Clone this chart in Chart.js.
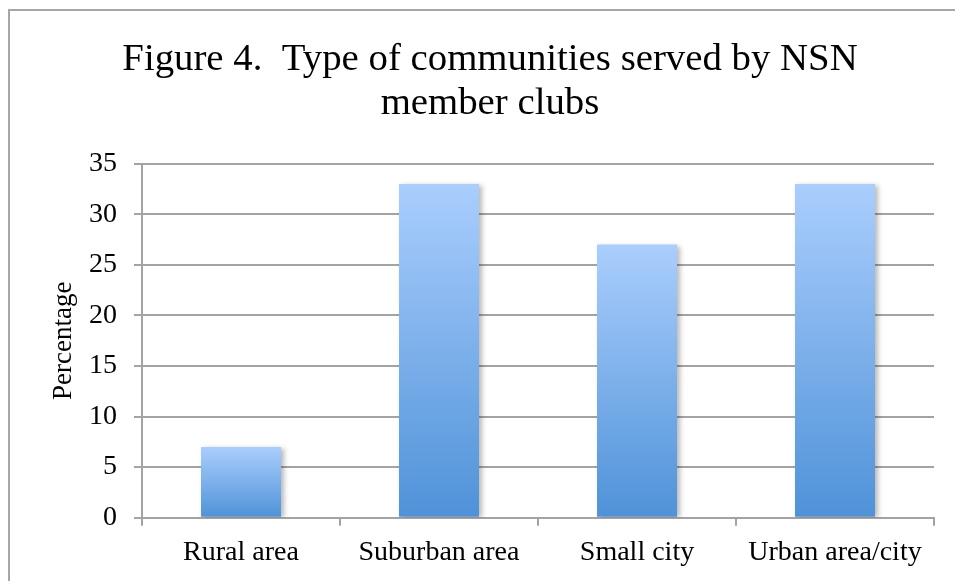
<!DOCTYPE html>
<html>
<head>
<meta charset="utf-8">
<script src="https://cdn.jsdelivr.net/npm/chart.js@4/dist/chart.umd.min.js"></script>
<style>
  html, body { margin: 0; padding: 0; background: #fff; overflow: hidden; }
  #wrap { position: relative; width: 955px; height: 581px; }
  #frame { position: absolute; left: 8px; top: 9px; width: 1000px; height: 1000px; border: 2px solid #a6a6a6; }
  #summaryChart { position: absolute; left: 0; top: 0; }
</style>
</head>
<body>
<div id="wrap">
  <div id="frame"></div>
  <canvas id="summaryChart" width="955" height="581"></canvas>
</div>
<script>
let categories = ['Rural area', 'Suburban area', 'Small city', 'Urban area/city'];
let percentages = [7, 33, 27, 33];
let yTicks = [0, 5, 10, 15, 20, 25, 30, 35];

let gridColor = '#a3a3a3';
let serif = '"Liberation Serif", "Times New Roman", serif';

// each bar fades from light blue at its top to deeper blue at the base
function barFill(c){
  let chart = c.chart;
  let y = chart.scales.y;
  if(!chart.chartArea || !y || c.raw === undefined) return '#7aaee9';
  let top = y.getPixelForValue(c.raw);
  let base = y.getPixelForValue(0);
  let g = chart.ctx.createLinearGradient(0, top, 0, base);
  g.addColorStop(0, '#aacefd');
  g.addColorStop(1, '#4f92d8');
  return g;
}

// soft shadow on the right of the bars
let barShadow = {
  id: 'barShadow',
  beforeDatasetsDraw(chart){
    let ctx = chart.ctx;
    ctx.save();
    ctx.shadowColor = 'rgba(0,0,0,0.28)';
    ctx.shadowBlur = 5;
    ctx.shadowOffsetX = 3;
    ctx.shadowOffsetY = 1;
  },
  afterDatasetsDraw(chart){
    chart.ctx.restore();
  }
};

let ctx = document.getElementById('summaryChart').getContext('2d');
let chart = new Chart(ctx, {
  type: 'bar',
  data: {
    labels: categories,
    datasets: [{
      label: 'Percentage',
      data: percentages,
      backgroundColor: barFill,
      borderWidth: 0,
      barPercentage: 0.404,
      categoryPercentage: 1
    }]
  },
  plugins: [barShadow],
  options: {
    responsive: false,
    animation: false,
    // left padding keeps the title centred over the whole frame
    layout: { padding: { left: 46, right: 21, top: 0, bottom: 0 } },
    plugins: {
      legend: { display: false },
      tooltip: { enabled: false },
      title: {
        display: true,
        text: ['Figure 4.  Type of communities served by NSN', 'member clubs'],
        color: '#000',
        font: { family: serif, size: 38.8, weight: 'normal', lineHeight: 1.12 },
        padding: { top: 38.5, bottom: 38.3 }
      }
    },
    scales: {
      x: {
        grid: { drawOnChartArea: false, drawTicks: true, tickLength: 8, color: gridColor, lineWidth: 2 },
        border: { color: gridColor, width: 2 },
        ticks: { color: '#000', font: { family: serif, size: 28 }, padding: 10, maxRotation: 0 },
        afterFit(s){ s.height = 63.3; }
      },
      y: {
        min: 0,
        max: 35,
        afterBuildTicks(s){ s.ticks = yTicks.map(v => ({ value: v })); },
        grid: { color: gridColor, lineWidth: 2, tickLength: 8 },
        border: { color: gridColor, width: 2 },
        ticks: { color: '#000', font: { family: serif, size: 28 }, padding: 17 },
        title: {
          display: true,
          text: 'Percentage',
          color: '#000',
          font: { family: serif, size: 27, lineHeight: 1 },
          padding: { top: 4.5, bottom: 0 }
        },
        afterFit(s){ s.width = 96; }
      }
    }
  }
});
</script>
</body>
</html>
